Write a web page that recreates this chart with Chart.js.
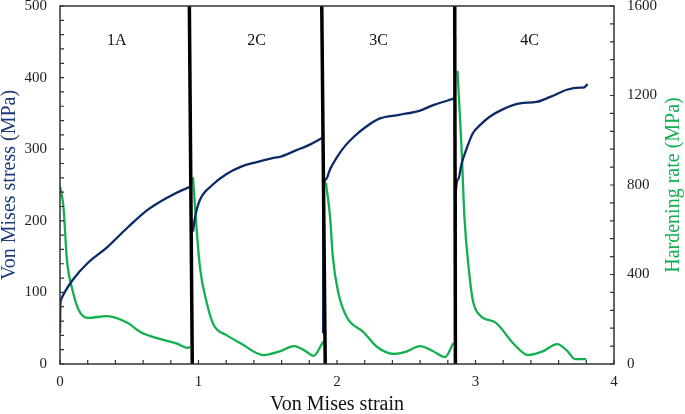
<!DOCTYPE html>
<html>
<head>
<meta charset="utf-8">
<script src="https://cdn.jsdelivr.net/npm/chart.js@4/dist/chart.umd.min.js"></script>
<style>
  body { margin: 0; background: #fff; }
  #wrap { width: 685px; height: 414px; }
</style>
</head>
<body>
<div id="wrap"><canvas id="stressChart" width="685" height="414"></canvas></div>
<script>
// Von Mises stress (left axis, MPa) per pass
const strain1A = [0, 0.002, 0.008, 0.03, 0.09, 0.2, 0.34, 0.49, 0.63, 0.77, 0.92, 0.935];
const stress1A = [43, 80, 90, 99, 117, 141, 163, 191, 215, 232, 246, 247];
const strain2C = [0.96, 0.975, 1.01, 1.1, 1.2, 1.3, 1.42, 1.52, 1.6, 1.7, 1.8, 1.895];
const stress2C = [185, 205, 229, 250, 265, 275, 282, 287, 290, 298, 306, 316];
const strain3C = [1.9, 1.902, 1.92, 1.95, 2.0, 2.06, 2.12, 2.2, 2.31, 2.45, 2.6, 2.7, 2.8, 2.845];
const stress3C = [43, 240, 258, 272, 289, 305, 317, 330, 343, 348, 354, 362, 368, 371];
const strain4C = [2.855, 2.857, 2.875, 2.9, 2.94, 2.98, 3.04, 3.1, 3.2, 3.32, 3.44, 3.54, 3.66, 3.75, 3.78, 3.81];
const stress4C = [40, 236, 258, 280, 303, 322, 335, 345, 356, 364, 366, 373, 383, 386, 386, 391];

// hardening rate (right axis, MPa) per pass
const hStrain1A = [0, 0.025, 0.05, 0.09, 0.135, 0.2, 0.34, 0.49, 0.58, 0.72, 0.85, 0.92, 0.94];
const hRate1A = [795, 702, 465, 331, 241, 206, 214, 183, 143, 112, 90, 72, 76];
const hStrain2C = [0.96, 0.98, 1.01, 1.06, 1.11, 1.2, 1.3, 1.47, 1.58, 1.69, 1.78, 1.83, 1.9];
const hRate2C = [835, 657, 434, 273, 174, 130, 94, 40, 55, 80, 55, 36, 100];
const hStrain3C = [1.92, 1.95, 1.97, 2.01, 2.07, 2.19, 2.29, 2.41, 2.5, 2.6, 2.7, 2.78, 2.84];
const hRate3C = [810, 657, 478, 317, 210, 143, 76, 45, 55, 80, 55, 31, 94];
const hStrain4C = [2.87, 2.9, 2.92, 2.95, 2.98, 3.03, 3.15, 3.27, 3.38, 3.48, 3.59, 3.66, 3.72, 3.8];
const hRate4C = [1310, 956, 657, 434, 286, 219, 183, 94, 40, 55, 89, 60, 22, 22];

// pass dividers (strain at bottom / top of the plot)
const dividerBottom = [0.955, 1.915, 2.855];
const dividerTop = [0.934, 1.89, 2.85];

const passLabels = ['1A', '2C', '3C', '4C'];
const passLabelX = [0.41, 1.42, 2.3, 3.39];

const xTicks = [0, 1, 2, 3, 4];
const stressTicks = [0, 100, 200, 300, 400, 500];
const rateTicks = [0, 400, 800, 1200, 1600];

const BLUE = '#0b2a66';
const GREEN = '#12b04f';
const SERIF = '"Liberation Serif", "Times New Roman", serif';

const pts = (xs, ys) => xs.map((x, i) => ({ x: x, y: ys[i] }));

const datasets = [];
dividerBottom.forEach((xb, i) => {
  datasets.push({
    data: [{ x: xb, y: 0 }, { x: dividerTop[i], y: 500 }],
    yAxisID: 'y', borderColor: '#000', borderWidth: 3.5, tension: 0, order: 0
  });
});
[[strain1A, stress1A], [strain2C, stress2C], [strain3C, stress3C], [strain4C, stress4C]].forEach(s => {
  datasets.push({
    data: pts(s[0], s[1]), yAxisID: 'y', borderColor: BLUE, borderWidth: 2.3,
    cubicInterpolationMode: 'monotone', order: 1
  });
});
[[hStrain1A, hRate1A], [hStrain2C, hRate2C], [hStrain3C, hRate3C], [hStrain4C, hRate4C]].forEach(s => {
  datasets.push({
    data: pts(s[0], s[1]), yAxisID: 'y2', borderColor: GREEN, borderWidth: 2.3,
    cubicInterpolationMode: 'monotone', order: 2
  });
});

// inward tick marks, frame, pass labels and axis titles
const decor = {
  id: 'decor',
  afterDatasetsDraw(chart) {
    const ctx = chart.ctx;
    const a = chart.chartArea;
    const sx = chart.scales.x, sy = chart.scales.y, sy2 = chart.scales.y2;
    ctx.save();
    ctx.strokeStyle = '#333';
    ctx.lineWidth = 1.2;
    ctx.beginPath();
    for (let v = 0; v <= 4.0001; v += 0.2) {
      const px = sx.getPixelForValue(v);
      ctx.moveTo(px, a.bottom); ctx.lineTo(px, a.bottom - 4);
    }
    for (let v = 0; v <= 500; v += 20) {
      const py = sy.getPixelForValue(v);
      ctx.moveTo(a.left, py); ctx.lineTo(a.left + 4, py);
    }
    for (let v = 0; v <= 1600; v += 80) {
      const py = sy2.getPixelForValue(v);
      ctx.moveTo(a.right, py); ctx.lineTo(a.right - 4, py);
    }
    ctx.stroke();
    ctx.lineWidth = 1.5;
    ctx.strokeRect(a.left, a.top, a.right - a.left, a.bottom - a.top);

    ctx.fillStyle = '#111';
    ctx.font = '16px ' + SERIF;
    ctx.textAlign = 'center';
    ctx.textBaseline = 'middle';
    passLabels.forEach((t, i) => {
      ctx.fillText(t, sx.getPixelForValue(passLabelX[i]), sy.getPixelForValue(452));
    });

    ctx.font = '20px ' + SERIF;
    const cy = (a.top + a.bottom) / 2;
    ctx.fillStyle = '#111';
    ctx.fillText('Von Mises strain', (a.left + a.right) / 2, 405);
    ctx.save();
    ctx.translate(10, cy);
    ctx.rotate(-Math.PI / 2);
    ctx.fillStyle = '#1c3a7c';
    ctx.fillText('Von Mises stress (MPa)', 0, 0);
    ctx.restore();
    ctx.save();
    ctx.translate(674, cy);
    ctx.rotate(-Math.PI / 2);
    ctx.fillStyle = GREEN;
    ctx.fillText('Hardening rate (MPa)', 0, 0);
    ctx.restore();
    ctx.restore();
  }
};

const tickFont = { family: SERIF, size: 15 };
const plainLabel = v => String(v);

new Chart(document.getElementById('stressChart'), {
  type: 'line',
  data: { datasets: datasets },
  plugins: [decor],
  options: {
    responsive: false,
    animation: false,
    layout: { padding: { top: 6, left: 0, right: 0, bottom: 0 } },
    elements: { point: { radius: 0 }, line: { fill: false } },
    plugins: { legend: { display: false }, tooltip: { enabled: false } },
    scales: {
      x: {
        type: 'linear', min: 0, max: 4,
        afterBuildTicks: s => { s.ticks = xTicks.map(v => ({ value: v })); },
        afterFit: s => { s.height = 50; s.paddingLeft = 0; s.paddingRight = 0; },
        grid: { display: false, drawTicks: false }, border: { display: false },
        ticks: { font: tickFont, color: '#222', padding: 9, maxRotation: 0, callback: plainLabel }
      },
      y: {
        position: 'left', min: 0, max: 500,
        afterBuildTicks: s => { s.ticks = stressTicks.map(v => ({ value: v })); },
        afterFit: s => { s.width = 60; s.paddingTop = 0; s.paddingBottom = 0; },
        grid: { display: false, drawTicks: false }, border: { display: false },
        ticks: { font: tickFont, color: '#222', padding: 13, callback: plainLabel }
      },
      y2: {
        position: 'right', min: 0, max: 1600,
        afterBuildTicks: s => { s.ticks = rateTicks.map(v => ({ value: v })); },
        afterFit: s => { s.width = 71; s.paddingTop = 0; s.paddingBottom = 0; },
        grid: { display: false, drawTicks: false }, border: { display: false },
        ticks: { font: tickFont, color: '#222', padding: 13, callback: plainLabel }
      }
    }
  }
});
</script>
</body>
</html>
